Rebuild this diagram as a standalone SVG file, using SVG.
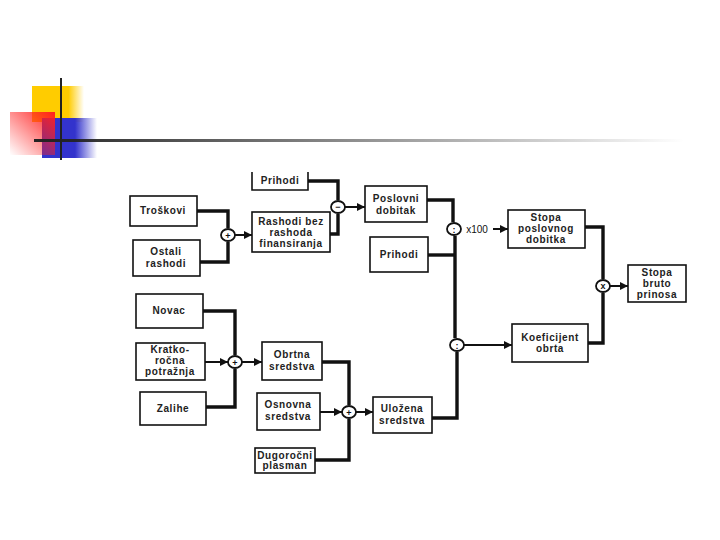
<svg xmlns="http://www.w3.org/2000/svg" width="720" height="540" viewBox="0 0 720 540">
<defs>
<linearGradient id="gY" x1="0" y1="0" x2="1" y2="0"><stop offset="0" stop-color="#ffcc00"/><stop offset="0.7" stop-color="#ffcc00"/><stop offset="1" stop-color="#ffcc00" stop-opacity="0"/></linearGradient>
<linearGradient id="gR" x1="1" y1="0" x2="0" y2="1"><stop offset="0" stop-color="#ff2020"/><stop offset="1" stop-color="#ff2020" stop-opacity="0"/></linearGradient>
<linearGradient id="gB" x1="0" y1="0" x2="1" y2="0"><stop offset="0" stop-color="#3333cc"/><stop offset="0.6" stop-color="#3333cc"/><stop offset="1" stop-color="#3333cc" stop-opacity="0"/></linearGradient>
<linearGradient id="gL" x1="0" y1="0" x2="1" y2="0"><stop offset="0" stop-color="#222"/><stop offset="1" stop-color="#222" stop-opacity="0"/></linearGradient>
<marker id="ar" viewBox="0 0 10 10" refX="10" refY="5" markerWidth="4" markerHeight="4" orient="auto"><path d="M0,0 L10,5 L0,10 z" fill="#111"/></marker>
</defs>
<style>
.b{fill:#fff;stroke:#111;stroke-width:1.6}
.t{font-family:"Liberation Sans",Arial,sans-serif;font-size:10px;font-weight:bold;letter-spacing:0.6px;fill:#222;text-anchor:middle}
.k{fill:none;stroke:#111;stroke-width:3.4}
.a{fill:none;stroke:#111;stroke-width:2;marker-end:url(#ar)}
.c{fill:#fff;stroke:#111;stroke-width:1.8}
.o{font-family:"Liberation Sans",Arial,sans-serif;font-size:9px;font-weight:bold;fill:#111;text-anchor:middle}
</style>
<g id="decor">
<rect x="32" y="86" width="52" height="36" fill="url(#gY)"/>
<rect x="42" y="118" width="55" height="40" fill="url(#gB)"/>
<rect x="10" y="112" width="45" height="43" fill="url(#gR)"/>
<line x1="61" y1="78" x2="61" y2="160" stroke="#222" stroke-width="2"/>
<rect x="34" y="139" width="650" height="3" fill="url(#gL)"/>
</g>
<g id="connectors">
<path class="k" d="M197,211 H228 V228"/>
<path class="k" d="M200,262 H228 V242"/>
<path class="a" d="M235,235 H252"/>
<path class="k" d="M308,181 H338 V200"/>
<path class="k" d="M330,234 H338 V214"/>
<path class="a" d="M345,207 H365"/>
<path class="k" d="M427,200 H453 V222"/>
<path class="k" d="M428,255 H455"/>
<path class="k" d="M455,236 V338"/>
<path class="a" d="M493,229 H508"/>
<path class="k" d="M585,227 H603 V279"/>
<path class="k" d="M588,343 H603 V293"/>
<path class="a" d="M610,286 H628"/>
<path class="a" d="M464,345 H512"/>
<path class="k" d="M432,418 H457 V352"/>
<path class="k" d="M203,311 H235 V355"/>
<path class="a" d="M205,362 H228"/>
<path class="k" d="M206,407 H235 V369"/>
<path class="a" d="M242,362 H262"/>
<path class="k" d="M322,362 H349 V405"/>
<path class="a" d="M320,412 H342"/>
<path class="k" d="M315,460 H349 V419"/>
<path class="a" d="M356,412 H373"/>
</g>
<g id="ops">
<ellipse class="c" cx="228" cy="235" rx="7" ry="6"/><text class="o" x="228" y="238.5">+</text>
<ellipse class="c" cx="338" cy="207" rx="7" ry="6"/><text class="o" x="338" y="210">−</text>
<ellipse class="c" cx="454" cy="229" rx="7" ry="6"/><text class="o" x="454" y="232.5">:</text>
<text class="o" x="477" y="232.5" style="font-weight:normal;font-size:10px">x100</text>
<ellipse class="c" cx="603" cy="286" rx="7" ry="6"/><text class="o" x="603" y="289">x</text>
<ellipse class="c" cx="457" cy="345" rx="7" ry="6"/><text class="o" x="457" y="348.5">:</text>
<ellipse class="c" cx="235" cy="362" rx="7" ry="6"/><text class="o" x="235" y="365.5">+</text>
<ellipse class="c" cx="349" cy="412" rx="7" ry="6"/><text class="o" x="349" y="415.5">+</text>
</g>
<g id="prihodi1"><path class="b" d="M252,172 V190 H308 V172"/><text class="t" x="280" y="184">Prihodi</text></g>
<g id="troskovi"><rect class="b" x="130" y="196" width="67" height="30"/><text class="t" x="163" y="214">Troškovi</text></g>
<g id="ostali"><rect class="b" x="133" y="240" width="67" height="36"/><text class="t" x="166" y="255">Ostali</text><text class="t" x="166" y="267">rashodi</text></g>
<g id="rashodibez"><rect class="b" x="252" y="212" width="78" height="40"/><text class="t" x="291" y="225">Rashodi bez</text><text class="t" x="291" y="236">rashoda</text><text class="t" x="291" y="247">finansiranja</text></g>
<g id="poslovni"><rect class="b" x="365" y="186" width="62" height="36"/><text class="t" x="396" y="202">Poslovni</text><text class="t" x="396" y="214">dobitak</text></g>
<g id="prihodi2"><rect class="b" x="370" y="237" width="58" height="35"/><text class="t" x="399" y="258">Prihodi</text></g>
<g id="stopaposl"><rect class="b" x="508" y="210" width="77" height="38"/><text class="t" x="546" y="221">Stopa</text><text class="t" x="546" y="232">poslovnog</text><text class="t" x="546" y="243">dobitka</text></g>
<g id="stopabruto"><rect class="b" x="628" y="265" width="58" height="37"/><text class="t" x="657" y="276">Stopa</text><text class="t" x="657" y="287">bruto</text><text class="t" x="657" y="298">prinosa</text></g>
<g id="koeficijent"><rect class="b" x="512" y="324" width="76" height="38"/><text class="t" x="550" y="341">Koeficijent</text><text class="t" x="550" y="352">obrta</text></g>
<g id="novac"><rect class="b" x="136" y="294" width="67" height="34"/><text class="t" x="169" y="314">Novac</text></g>
<g id="kratko"><rect class="b" x="136" y="343" width="69" height="37"/><text class="t" x="170" y="353">Kratko-</text><text class="t" x="170" y="364">ročna</text><text class="t" x="170" y="375">potražnja</text></g>
<g id="zalihe"><rect class="b" x="140" y="392" width="66" height="33"/><text class="t" x="173" y="412">Zalihe</text></g>
<g id="obrtna"><rect class="b" x="262" y="342" width="60" height="38"/><text class="t" x="292" y="358">Obrtna</text><text class="t" x="292" y="370">sredstva</text></g>
<g id="osnovna"><rect class="b" x="257" y="393" width="63" height="37"/><text class="t" x="288" y="408">Osnovna</text><text class="t" x="288" y="420">sredstva</text></g>
<g id="ulozena"><rect class="b" x="373" y="397" width="59" height="36"/><text class="t" x="402" y="412">Uložena</text><text class="t" x="402" y="424">sredstva</text></g>
<g id="dugorocni"><rect class="b" x="255" y="448" width="60" height="25"/><text class="t" x="285" y="459">Dugoročni</text><text class="t" x="285" y="469">plasman</text></g>
</svg>
